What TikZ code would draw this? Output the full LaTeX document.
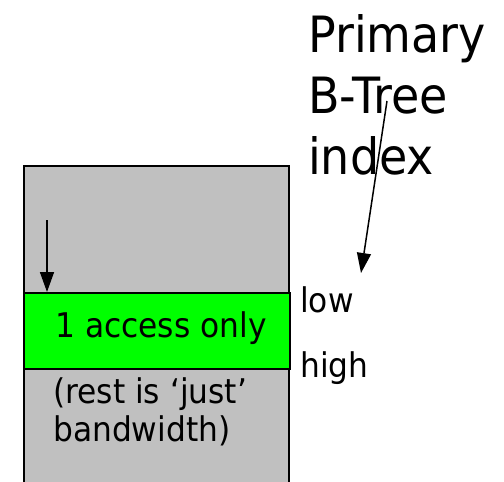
\documentclass[tikz,border=0pt]{standalone}
\usepackage{fontspec}
\setmainfont[FakeStretch=0.92]{DejaVu Sans}
\usetikzlibrary{arrows.meta}
\definecolor{blockgray}{HTML}{C0C0C0}
\definecolor{hitgreen}{HTML}{00FF00}
\tikzset{
  x=1pt, y=-1pt,
  region/.style={draw=black, line width=1.5pt},
  big/.style={font=\fontsize{50}{61}\selectfont, anchor=base west, inner sep=0pt, align=left},
  lbl/.style={font=\fontsize{34}{38}\selectfont, anchor=base west, inner sep=0pt, align=left},
  ptr/.style={line width=1.5pt, -{Triangle[width=14pt,length=20pt]}}
}
\begin{document}
\begin{tikzpicture}
\useasboundingbox (0,0) rectangle (504,482);
% data file and the fetched range
\path[region, fill=blockgray] (24,500) |- (289,166) -- (289,500);
\node[region, fill=hitgreen, minimum width=266pt, minimum height=76pt, inner sep=0pt, anchor=north west] (hit) at (23,292) {};
% labels (base anchor sits on the last line)
\node[lbl] (once) at (55,337) {1 access only};
\node[lbl] (rest) at (53,441) {(rest is `just'\\bandwidth)};
\node[lbl] (low) at (300,312) {low};
\node[lbl] (high) at (300,377) {high};
\node[big] (idx) at (308,174) {Primary\\B-Tree\\index};
% pointers
\coordinate (scanfrom) at (47,220);
\coordinate (idxfrom) at (387,101);
\coordinate (idxto) at (361,273);
\draw[ptr] (scanfrom) -- (scanfrom |- hit.north);
\draw[ptr] (idxfrom) -- (idxto);
\end{tikzpicture}
\end{document}
